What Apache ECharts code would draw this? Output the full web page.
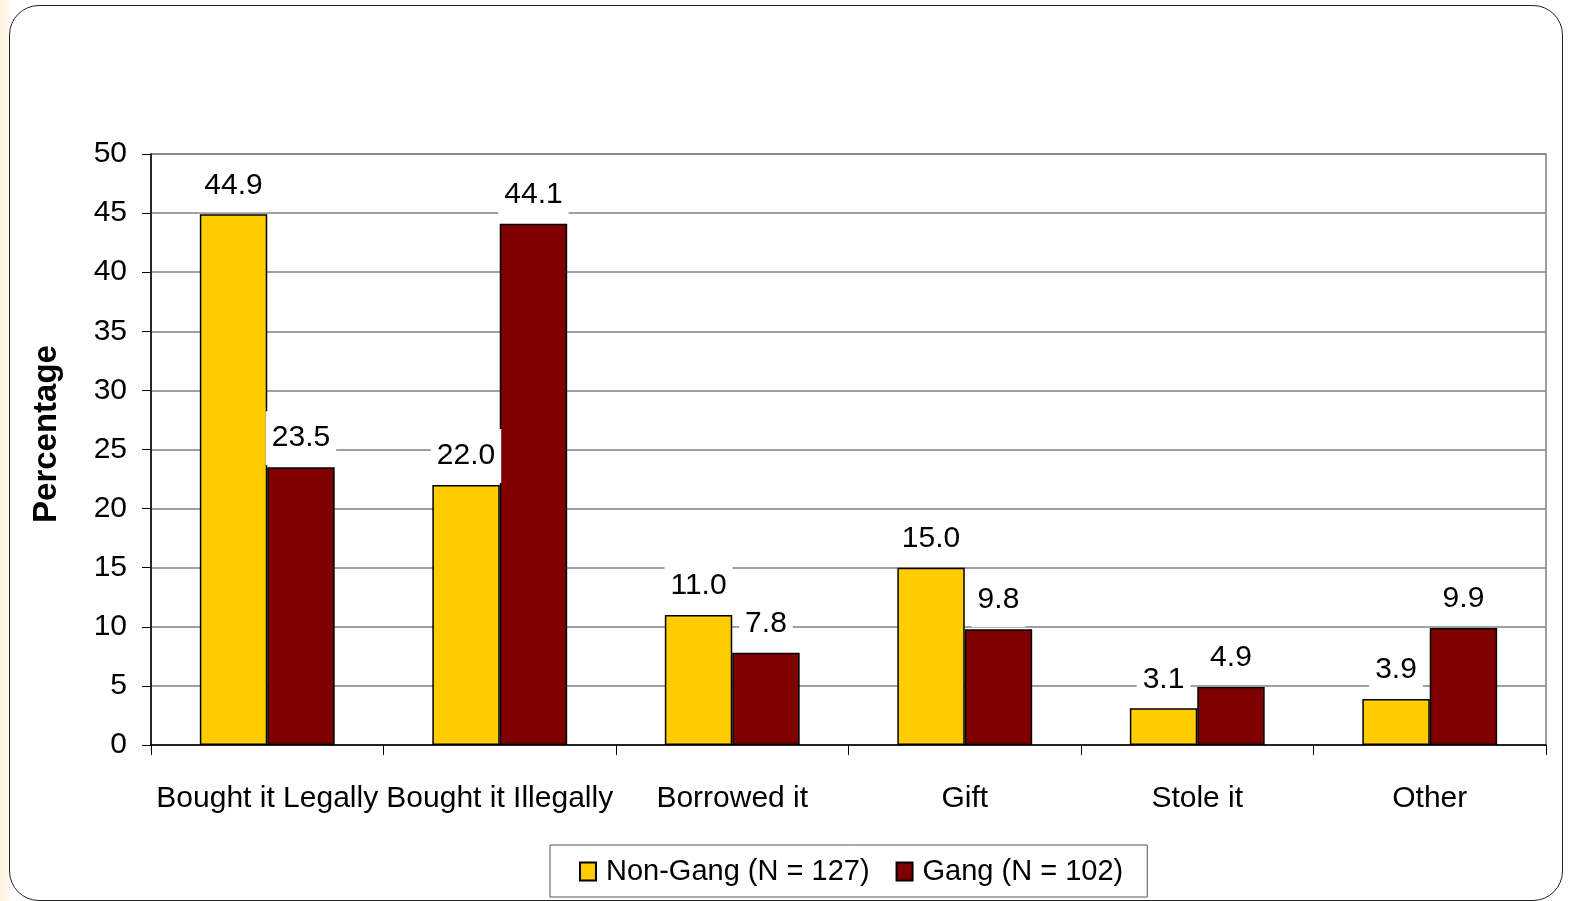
<!DOCTYPE html>
<html>
<head>
<meta charset="utf-8">
<script src="https://cdn.jsdelivr.net/npm/echarts@6/dist/echarts.min.js"></script>
<style>
    html, body { margin: 0; padding: 0; width: 1569px; height: 901px; overflow: hidden;
        background: linear-gradient(to right, #fdf1dc 0px, #fffaf0 9px, #ffffff 12px); }
    #frame { position: absolute; left: 9px; top: 5px; width: 1552px; height: 894px;
        border: 1.5px solid #222; border-radius: 30px; background: #fff; }
    #chart { position: absolute; left: 0; top: 0; width: 1569px; height: 901px; }
</style>
</head>
<body>
<div id="frame"></div>
<div id="chart"></div>
<script>
// data
const categories = ['Bought it Legally', 'Bought it Illegally', 'Borrowed it', 'Gift', 'Stole it', 'Other'];
const nonGang = [44.9, 22.0, 11.0, 15.0, 3.1, 3.9];
const gang = [23.5, 44.1, 7.8, 9.8, 4.9, 9.9];
const seriesNames = ['Non-Gang (N = 127)', 'Gang (N = 102)'];

const fontFamily = '"Liberation Sans", Arial, sans-serif';

const barLabel = {
    show: true,
    position: 'top',
    distance: 2,
    color: '#000',
    fontSize: 30,
    fontFamily,
    backgroundColor: '#fff',
    padding: [12, 6],
    formatter: p => p.value.toFixed(1),
};

const chart = echarts.init(document.getElementById('chart'));
chart.setOption({
    animation: false,
    backgroundColor: 'transparent',
    textStyle: { fontFamily },
    grid: {
        left: 151,
        top: 154,
        right: 23,
        bottom: 156,
        show: true,
        borderColor: '#808080',
        borderWidth: 1.5,
        containLabel: false,
    },
    legend: {
        bottom: 4,
        left: 550,
        data: seriesNames,
        icon: 'rect',
        itemWidth: 16,
        itemHeight: 18,
        itemGap: 26,
        padding: [12, 24, 11, 29],
        borderColor: '#555',
        borderWidth: 1,
        textStyle: { fontSize: 29, color: '#000', fontFamily, padding: [0, 0, 0, 5] },
    },
    xAxis: {
        type: 'category',
        data: categories,
        axisLine: { lineStyle: { color: '#000', width: 1.5 } },
        axisTick: { show: true, length: 10, lineStyle: { color: '#000' } },
        axisLabel: { color: '#000', fontSize: 30, margin: 39, interval: 0 },
    },
    yAxis: {
        type: 'value',
        min: 0,
        max: 50,
        interval: 5,
        name: 'Percentage',
        nameLocation: 'middle',
        nameGap: 88,
        nameTextStyle: { fontSize: 33, fontWeight: 'bold', color: '#000', padding: [0, 0, 0, 31] },
        axisLine: { show: true, lineStyle: { color: '#000', width: 1.5 } },
        axisTick: { show: true, length: 9, lineStyle: { color: '#000' } },
        axisLabel: { color: '#000', fontSize: 30, margin: 24, padding: [4, 0, 0, 0] },
        splitLine: { lineStyle: { color: '#808080', width: 1.5 } },
    },
    series: [
        {
            name: seriesNames[0],
            type: 'bar',
            data: nonGang,
            barGap: '0%',
            barCategoryGap: '42%',
            itemStyle: { color: '#FFCC00', borderColor: '#000', borderWidth: 1.5 },
            label: barLabel,
        },
        {
            name: seriesNames[1],
            type: 'bar',
            data: gang,
            barGap: '0%',
            barCategoryGap: '42%',
            itemStyle: { color: '#800000', borderColor: '#000', borderWidth: 1.5 },
            label: barLabel,
        },
    ],
});
</script>
</body>
</html>
